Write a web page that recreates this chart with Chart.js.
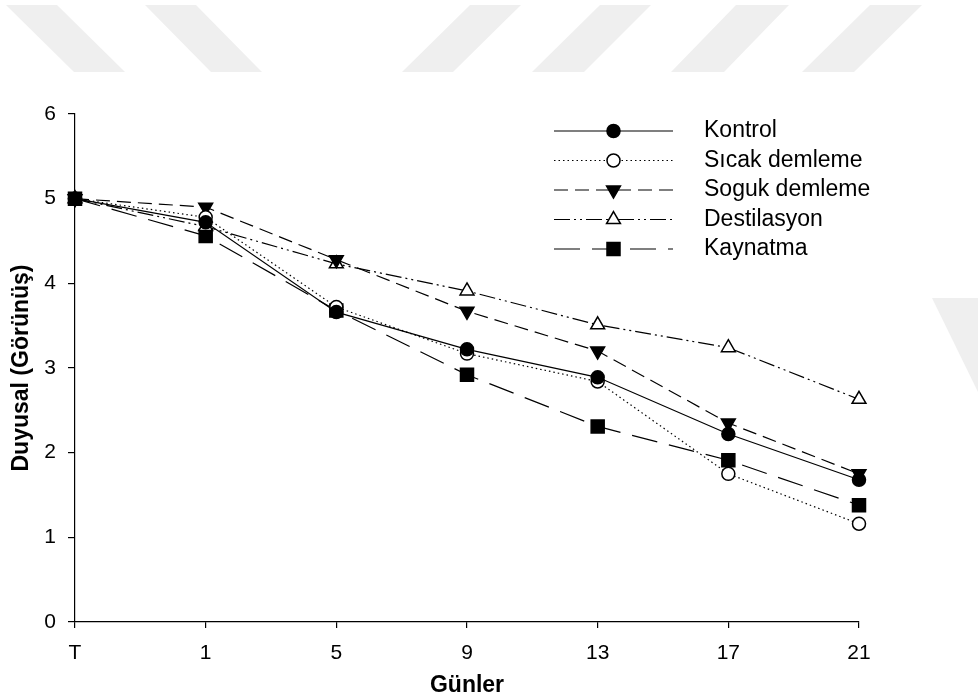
<!DOCTYPE html>
<html>
<head>
<meta charset="utf-8">
<script src="https://cdn.jsdelivr.net/npm/chart.js@4.4.0/dist/chart.umd.min.js"></script>
<style>
  html, body { margin: 0; padding: 0; background: #fff; }
  #wrap { position: relative; width: 978px; height: 699px; }
  #wm, #chart { position: absolute; left: 0; top: 0; }
</style>
</head>
<body>
<div id="wrap">
  <!-- faint watermark behind the plot -->
  <svg id="wm" width="978" height="699">
    <g fill="#efefef">
      <polygon points="6,5 57,5 125,72 74,72"/>
      <polygon points="145,5 196,5 262,72 211,72"/>
      <polygon points="470,5 521,5 453,72 402,72"/>
      <polygon points="600,5 651,5 584,72 532,72"/>
      <polygon points="736,5 789,5 724,72 671,72"/>
      <polygon points="870,5 922,5 854,72 802,72"/>
      <polygon points="932,298 978,298 978,392"/>
    </g>
  </svg>
  <canvas id="chart" width="978" height="699"></canvas>
</div>
<script>
// data
const days        = ['T', '1', '5', '9', '13', '17', '21'];
const kontrol     = [5.0, 4.72, 3.66, 3.22, 2.89, 2.22, 1.68];
const sicak       = [5.0, 4.78, 3.72, 3.17, 2.84, 1.75, 1.16];
const soguk       = [5.0, 4.90, 4.28, 3.67, 3.20, 2.35, 1.75];
const destilasyon = [5.0, 4.67, 4.23, 3.91, 3.51, 3.24, 2.63];
const kaynatma    = [5.0, 4.56, 3.68, 2.92, 2.31, 1.91, 1.38];

const FONT = 'Arial, "Liberation Sans", sans-serif';

function series(label, values, dash, style, fill, radius, rot) {
  return {
    label: label,
    data: values,
    borderColor: '#000',
    borderWidth: 1.2,
    borderDash: dash,
    tension: 0,
    pointStyle: style,
    pointRadius: radius,
    pointHoverRadius: radius,
    pointRotation: rot || 0,
    pointBackgroundColor: fill,
    pointBorderColor: '#000',
    pointBorderWidth: 1.5
  };
}

const data = {
  labels: days,
  datasets: [
    series('Kontrol', kontrol, [], 'circle', '#000', 6.5),
    series('Sıcak demleme', sicak, [1.5, 3], 'circle', '#fff', 6.5),
    series('Soguk demleme', soguk, [14, 7], 'triangle', '#000', 8, 180),
    series('Destilasyon', destilasyon, [16, 4, 2, 4, 2, 4], 'triangle', '#fff', 8),
    series('Kaynatma', kaynatma, [26, 12], 'rect', '#000', 9.2)
  ]
};

// legend drawn as line + marker, like the original
const lineLegend = {
  id: 'lineLegend',
  afterDraw(chart) {
    const ctx = chart.ctx;
    const x0 = 554, x1 = 673, tx = 704, top = 131, step = 29.5;
    chart.data.datasets.forEach((ds, i) => {
      const y = top + i * step;
      ctx.save();
      ctx.strokeStyle = '#000';
      ctx.lineWidth = ds.borderWidth;
      ctx.setLineDash(ds.borderDash);
      ctx.beginPath();
      ctx.moveTo(x0, y);
      ctx.lineTo(x1, y);
      ctx.stroke();
      ctx.setLineDash([]);
      ctx.fillStyle = ds.pointBackgroundColor;
      ctx.lineWidth = ds.pointBorderWidth;
      Chart.helpers.drawPoint(ctx, {
        pointStyle: ds.pointStyle,
        rotation: ds.pointRotation,
        radius: ds.pointRadius,
        borderWidth: ds.pointBorderWidth
      }, (x0 + x1) / 2, y);
      ctx.fillStyle = '#000';
      ctx.font = '23px ' + FONT;
      ctx.textBaseline = 'middle';
      ctx.textAlign = 'left';
      ctx.fillText(ds.label, tx, y);
      ctx.restore();
    });
  }
};

const config = {
  type: 'line',
  data: data,
  plugins: [lineLegend],
  options: {
    responsive: false,
    animation: false,
    layout: { padding: { top: 114, right: 119, left: 0, bottom: 0 } },
    plugins: {
      legend: { display: false },
      tooltip: { enabled: false }
    },
    scales: {
      x: {
        type: 'category',
        offset: false,
        afterFit: (s) => { s.height = 77; },
        grid: { drawOnChartArea: false, drawTicks: true, tickLength: 6, color: '#000', lineWidth: 1.2 },
        border: { display: true, color: '#000', width: 1.2 },
        ticks: { color: '#000', font: { family: FONT, size: 21 }, padding: 13, maxRotation: 0 },
        title: { display: true, text: 'Günler', color: '#000',
                 font: { family: FONT, size: 23, weight: 'bold' }, padding: { top: 0, bottom: 0 } }
      },
      y: {
        min: 0,
        max: 6,
        afterFit: (s) => { s.width = 75; },
        grid: { drawOnChartArea: false, drawTicks: true, tickLength: 7, color: '#000', lineWidth: 1.2 },
        border: { display: true, color: '#000', width: 1.2 },
        ticks: { stepSize: 1, color: '#000', font: { family: FONT, size: 21 }, padding: 12 },
        title: { display: true, text: 'Duyusal (Görünüş)', color: '#000',
                 font: { family: FONT, size: 23, weight: 'bold' }, padding: { top: 8, bottom: 0 } }
      }
    }
  }
};

var chart = new Chart(document.getElementById('chart'), config);
</script>
</body>
</html>
